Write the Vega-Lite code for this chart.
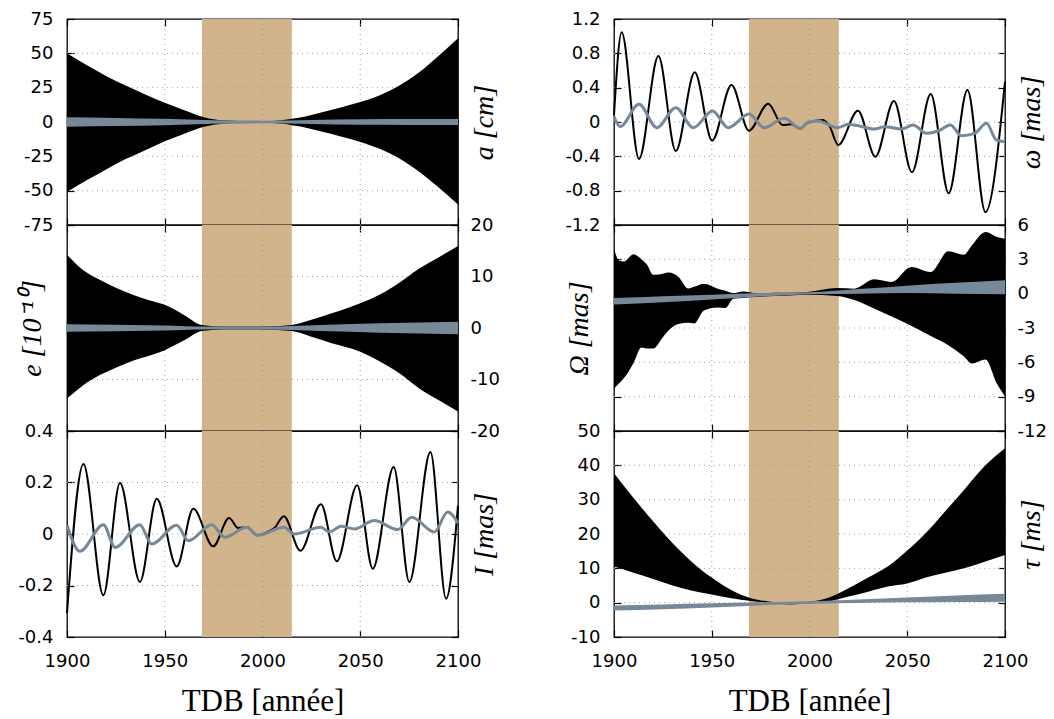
{
  "$schema": "https://vega.github.io/schema/vega-lite/v6.json",
  "padding": {"left": 17, "top": 9, "right": 5, "bottom": 0},
  "background": "white",
  "columns": 2,
  "spacing": {"row": 0, "column": 156},
  "bounds": "flush",
  "datasets": {
    "band": [{"s": 1969, "e": 2015}],
    "xg": [{"g": 1950}, {"g": 2000}, {"g": 2050}],
    "yg_a": [{"g": -50}, {"g": -25}, {"g": 0}, {"g": 25}, {"g": 50}],
    "yg_e": [{"g": -10}, {"g": 0}, {"g": 10}],
    "yg_I": [{"g": -0.2}, {"g": 0}, {"g": 0.2}],
    "yg_w": [{"g": -0.8}, {"g": -0.4}, {"g": 0}, {"g": 0.4}, {"g": 0.8}],
    "yg_O": [{"g": -9}, {"g": -6}, {"g": -3}, {"g": 0}, {"g": 3}],
    "yg_t": [{"g": 0}, {"g": 10}, {"g": 20}, {"g": 30}, {"g": 40}],
    "a_b": [
      {"t": 1900, "lo": -51, "hi": 50}, {"t": 1910, "lo": -42.5, "hi": 41.5}, {"t": 1920, "lo": -34.5, "hi": 33.5},
      {"t": 1930, "lo": -27, "hi": 26.5}, {"t": 1940, "lo": -20.5, "hi": 20}, {"t": 1950, "lo": -14, "hi": 14},
      {"t": 1960, "lo": -8.5, "hi": 8.5}, {"t": 1970, "lo": -3.5, "hi": 3.5}, {"t": 1975, "lo": -2, "hi": 2},
      {"t": 1980, "lo": -1.2, "hi": 1.2}, {"t": 1990, "lo": -0.6, "hi": 0.6}, {"t": 2000, "lo": -0.6, "hi": 0.6},
      {"t": 2010, "lo": -1.3, "hi": 1.3}, {"t": 2015, "lo": -2.3, "hi": 2.3}, {"t": 2020, "lo": -3.5, "hi": 3.5},
      {"t": 2030, "lo": -7, "hi": 7}, {"t": 2040, "lo": -10.5, "hi": 10.5}, {"t": 2050, "lo": -14.5, "hi": 14.5},
      {"t": 2060, "lo": -19.5, "hi": 19.5}, {"t": 2070, "lo": -26.5, "hi": 26.5}, {"t": 2080, "lo": -36, "hi": 36},
      {"t": 2090, "lo": -47.5, "hi": 48}, {"t": 2100, "lo": -60, "hi": 61}
    ],
    "a_g": [
      {"t": 1900, "lo": -3.5, "hi": 3.5}, {"t": 1925, "lo": -3, "hi": 3}, {"t": 1950, "lo": -2.3, "hi": 2.3},
      {"t": 1975, "lo": -1.3, "hi": 1.3}, {"t": 2000, "lo": -1, "hi": 1}, {"t": 2025, "lo": -1.5, "hi": 1.5},
      {"t": 2050, "lo": -2, "hi": 2}, {"t": 2075, "lo": -2.1, "hi": 2.1}, {"t": 2100, "lo": -2.2, "hi": 2.2}
    ],
    "e_b": [
      {"t": 1900, "lo": -13.7, "hi": 14.2}, {"t": 1908, "lo": -11.2, "hi": 11.3}, {"t": 1917, "lo": -9.1, "hi": 9.3},
      {"t": 1925, "lo": -7.7, "hi": 7.8}, {"t": 1934, "lo": -6.3, "hi": 6.4}, {"t": 1942, "lo": -5.4, "hi": 5.4},
      {"t": 1950, "lo": -4.3, "hi": 4.5}, {"t": 1960, "lo": -2.4, "hi": 2.5}, {"t": 1969, "lo": -0.6, "hi": 0.6},
      {"t": 1980, "lo": -0.3, "hi": 0.3}, {"t": 2000, "lo": -0.3, "hi": 0.3}, {"t": 2015, "lo": -0.6, "hi": 0.6},
      {"t": 2025, "lo": -1.7, "hi": 1.6}, {"t": 2035, "lo": -2.9, "hi": 2.8}, {"t": 2050, "lo": -4.6, "hi": 4.8},
      {"t": 2060, "lo": -6.5, "hi": 6.5}, {"t": 2070, "lo": -8.8, "hi": 8.8}, {"t": 2080, "lo": -11.7, "hi": 11.5},
      {"t": 2090, "lo": -14, "hi": 13.7}, {"t": 2100, "lo": -16.2, "hi": 15.9}
    ],
    "e_g": [
      {"t": 1900, "lo": -0.75, "hi": 0.75}, {"t": 1950, "lo": -0.5, "hi": 0.5}, {"t": 1970, "lo": -0.3, "hi": 0.3},
      {"t": 2000, "lo": -0.3, "hi": 0.3}, {"t": 2030, "lo": -0.6, "hi": 0.6}, {"t": 2060, "lo": -0.9, "hi": 0.9},
      {"t": 2100, "lo": -1.2, "hi": 1.2}
    ],
    "I_b": [
      {"t": 1900, "v": -0.307}, {"t": 1908.4, "v": 0.272}, {"t": 1918.6, "v": -0.238}, {"t": 1927.1, "v": 0.198},
      {"t": 1937.3, "v": -0.186}, {"t": 1945.9, "v": 0.137}, {"t": 1956.1, "v": -0.126}, {"t": 1964.6, "v": 0.098},
      {"t": 1974.8, "v": -0.048}, {"t": 1982.9, "v": 0.062}, {"t": 1987.6, "v": 0.023}, {"t": 1991.9, "v": 0.027},
      {"t": 1997.3, "v": -0.005}, {"t": 2002.7, "v": 0.008}, {"t": 2006.1, "v": 0.023}, {"t": 2010.9, "v": 0.069},
      {"t": 2019.4, "v": -0.065}, {"t": 2029.9, "v": 0.116}, {"t": 2038.0, "v": -0.106}, {"t": 2048.4, "v": 0.189},
      {"t": 2056.4, "v": -0.135}, {"t": 2067.1, "v": 0.26}, {"t": 2075.1, "v": -0.186}, {"t": 2085.9, "v": 0.318},
      {"t": 2093.9, "v": -0.251}, {"t": 2100, "v": 0.11}
    ],
    "I_g": [
      {"t": 1900, "v": 0.034}, {"t": 1906.6, "v": -0.067}, {"t": 1918.6, "v": 0.036}, {"t": 1924.6, "v": -0.052},
      {"t": 1937.3, "v": 0.036}, {"t": 1943.3, "v": -0.039}, {"t": 1956.1, "v": 0.034}, {"t": 1962.1, "v": -0.026},
      {"t": 1974.0, "v": 0.036}, {"t": 1980.8, "v": -0.013}, {"t": 1991.9, "v": 0.026}, {"t": 1997.6, "v": -0.005},
      {"t": 2010.9, "v": 0.026}, {"t": 2016.3, "v": 0.0}, {"t": 2029.9, "v": 0.026}, {"t": 2034.2, "v": 0.008},
      {"t": 2040.2, "v": 0.03}, {"t": 2047.0, "v": 0.019}, {"t": 2057.2, "v": 0.052}, {"t": 2069.2, "v": 0.017},
      {"t": 2076.3, "v": 0.065}, {"t": 2087.9, "v": 0.008}, {"t": 2094.7, "v": 0.085}, {"t": 2100, "v": 0.043}
    ],
    "w_b": [
      {"t": 1900, "v": 0.08}, {"t": 1903.9, "v": 1.045}, {"t": 1912.8, "v": -0.431}, {"t": 1922.7, "v": 0.769},
      {"t": 1931.6, "v": -0.338}, {"t": 1941.3, "v": 0.579}, {"t": 1950.2, "v": -0.217}, {"t": 1960.1, "v": 0.431},
      {"t": 1969.0, "v": -0.101}, {"t": 1978.9, "v": 0.214}, {"t": 1986.2, "v": -0.035}, {"t": 1990.5, "v": -0.027},
      {"t": 1995.3, "v": -0.078}, {"t": 1999.0, "v": -0.01}, {"t": 2006.9, "v": 0.023}, {"t": 2010.3, "v": -0.05},
      {"t": 2014.7, "v": -0.268}, {"t": 2024.8, "v": 0.132}, {"t": 2033.7, "v": -0.404}, {"t": 2043.2, "v": 0.245},
      {"t": 2052.4, "v": -0.586}, {"t": 2062.0, "v": 0.326}, {"t": 2071.2, "v": -0.831}, {"t": 2080.8, "v": 0.373},
      {"t": 2090.0, "v": -1.052}, {"t": 2100, "v": 0.47}
    ],
    "w_g": [
      {"t": 1900, "v": 0.062}, {"t": 1903.1, "v": -0.054}, {"t": 1912.8, "v": 0.206}, {"t": 1921.9, "v": -0.066},
      {"t": 1931.6, "v": 0.167}, {"t": 1940.6, "v": -0.066}, {"t": 1950.4, "v": 0.128}, {"t": 1958.4, "v": -0.066},
      {"t": 1969.1, "v": 0.093}, {"t": 1976.8, "v": -0.066}, {"t": 1987.1, "v": 0.043}, {"t": 1995.3, "v": -0.074},
      {"t": 1999.5, "v": 0.0}, {"t": 2004.3, "v": 0.012}, {"t": 2014.5, "v": -0.066}, {"t": 2019.7, "v": -0.027},
      {"t": 2024.8, "v": -0.043}, {"t": 2033.3, "v": -0.082}, {"t": 2038.4, "v": -0.054}, {"t": 2047.0, "v": -0.082},
      {"t": 2053.0, "v": -0.035}, {"t": 2059.8, "v": -0.132}, {"t": 2065.8, "v": -0.105}, {"t": 2072.1, "v": -0.035},
      {"t": 2077.7, "v": -0.159}, {"t": 2084.5, "v": -0.132}, {"t": 2090.5, "v": -0.016}, {"t": 2095.6, "v": -0.21},
      {"t": 2100, "v": -0.229}
    ],
    "O_b": [
      {"t": 1900, "lo": -8.3, "hi": 3.93}, {"t": 1902.5, "lo": -7.85, "hi": 2.9}, {"t": 1905, "lo": -7.4, "hi": 2.8},
      {"t": 1910, "lo": -6.05, "hi": 3.44}, {"t": 1914, "lo": -4.7, "hi": 3.0}, {"t": 1917, "lo": -4.8, "hi": 2.5}, {"t": 1920, "lo": -4.8, "hi": 1.65},
      {"t": 1925, "lo": -3.8, "hi": 1.75}, {"t": 1928, "lo": -3.2, "hi": 1.84}, {"t": 1933, "lo": -2.65, "hi": 1.46},
      {"t": 1938, "lo": -2.55, "hi": 0.45}, {"t": 1941, "lo": -2.6, "hi": 0.6}, {"t": 1946, "lo": -1.46, "hi": 0.87}, {"t": 1953, "lo": -1.2, "hi": 0.44},
      {"t": 1957, "lo": -1.25, "hi": 0.25}, {"t": 1961, "lo": -0.45, "hi": 0.05}, {"t": 1966, "lo": -0.37, "hi": 0.2}, {"t": 1973, "lo": -0.3, "hi": 0.05},
      {"t": 1982, "lo": -0.2, "hi": 0.09}, {"t": 1990, "lo": -0.15, "hi": 0.09}, {"t": 1999, "lo": -0.09, "hi": 0.15},
      {"t": 2014, "lo": -0.2, "hi": 0.5}, {"t": 2023, "lo": -0.55, "hi": 0.44}, {"t": 2033, "lo": -1.3, "hi": 1.25},
      {"t": 2042, "lo": -2.0, "hi": 1.02}, {"t": 2052, "lo": -2.8, "hi": 2.33}, {"t": 2062, "lo": -3.7, "hi": 1.89},
      {"t": 2071, "lo": -4.5, "hi": 3.7}, {"t": 2079, "lo": -5.5, "hi": 3.4}, {"t": 2083, "lo": -6.1, "hi": 4.2}, {"t": 2090, "lo": -5.75, "hi": 5.39},
      {"t": 2096, "lo": -7.9, "hi": 4.95}, {"t": 2100, "lo": -9.0, "hi": 4.8}
    ],
    "O_g": [
      {"t": 1900, "lo": -0.95, "hi": -0.38}, {"t": 1925, "lo": -0.75, "hi": -0.22}, {"t": 1950, "lo": -0.5, "hi": -0.09},
      {"t": 1975, "lo": -0.25, "hi": 0.05}, {"t": 2000, "lo": -0.05, "hi": 0.12}, {"t": 2025, "lo": 0.0, "hi": 0.4},
      {"t": 2050, "lo": 0.05, "hi": 0.7}, {"t": 2075, "lo": 0.0, "hi": 0.95}, {"t": 2100, "lo": -0.05, "hi": 1.17}
    ],
    "t_b": [
      {"t": 1900, "lo": 10.5, "hi": 37.7}, {"t": 1910, "lo": 8.7, "hi": 30.5}, {"t": 1920, "lo": 6.9, "hi": 23.7},
      {"t": 1930, "lo": 5.0, "hi": 17.3}, {"t": 1940, "lo": 3.5, "hi": 11.8}, {"t": 1950, "lo": 2.4, "hi": 7.3},
      {"t": 1960, "lo": 1.3, "hi": 3.7}, {"t": 1970, "lo": 0.5, "hi": 1.3}, {"t": 1980, "lo": 0.0, "hi": 0.3},
      {"t": 1990, "lo": -0.5, "hi": 0.0}, {"t": 2000, "lo": -0.2, "hi": 0.3}, {"t": 2010, "lo": 0.4, "hi": 1.5},
      {"t": 2020, "lo": 1.8, "hi": 4.2}, {"t": 2030, "lo": 3.2, "hi": 7.3}, {"t": 2040, "lo": 4.7, "hi": 10.5},
      {"t": 2050, "lo": 5.6, "hi": 15.2}, {"t": 2060, "lo": 7.4, "hi": 20.6}, {"t": 2070, "lo": 8.8, "hi": 27},
      {"t": 2080, "lo": 10.2, "hi": 33.5}, {"t": 2090, "lo": 12, "hi": 40}, {"t": 2100, "lo": 13.9, "hi": 45}
    ],
    "t_g": [
      {"t": 1900, "lo": -2.3, "hi": -0.8}, {"t": 1925, "lo": -1.9, "hi": -0.5}, {"t": 1950, "lo": -1.4, "hi": -0.2},
      {"t": 1975, "lo": -0.8, "hi": 0.1}, {"t": 2000, "lo": -0.3, "hi": 0.4}, {"t": 2025, "lo": -0.1, "hi": 0.9},
      {"t": 2050, "lo": 0.1, "hi": 1.5}, {"t": 2075, "lo": 0.2, "hi": 2.1}, {"t": 2100, "lo": 0.3, "hi": 2.6}
    ]
  },
  "concat": [
    {
      "width": 391, "height": 206,
      "resolve": {"axis": {"x": "independent", "y": "independent"}},
      "layer": [
        {"data": {"name": "band"}, "mark": {"type": "rect", "color": "#D2B48C"},
         "encoding": {"x": {"field": "s", "type": "quantitative", "scale": {"domain": [1900, 2100]}, "axis": null}, "x2": {"field": "e"}}},
        {"data": {"name": "xg"}, "mark": {"type": "rule", "color": "#a0a0a0", "strokeDash": [1, 4], "strokeWidth": 1},
         "encoding": {"x": {"field": "g", "type": "quantitative", "scale": {"domain": [1900, 2100]}, "axis": null}}},
        {"data": {"name": "yg_a"}, "mark": {"type": "rule", "color": "#a0a0a0", "strokeDash": [1, 4], "strokeWidth": 1},
         "encoding": {"y": {"field": "g", "type": "quantitative", "scale": {"domain": [-75, 75], "nice": false, "zero": false}, "axis": null}}},
        {"data": {"name": "a_b"}, "mark": {"type": "area", "color": "#000", "interpolate": "monotone"},
         "encoding": {"x": {"field": "t", "type": "quantitative", "scale": {"domain": [1900, 2100]}, "axis": {"orient": "bottom", "values": [1900, 1950, 2000, 2050, 2100], "labels": false, "tickSize": -7, "title": null}},
                      "y": {"field": "hi", "type": "quantitative", "scale": {"domain": [-75, 75], "nice": false, "zero": false}, "axis": {"orient": "left", "values": [-75, -50, -25, 0, 25, 50, 75], "tickSize": -7, "labelPadding": 21, "labelExpr": "toString(datum.value)", "title": null}},
                      "y2": {"field": "lo"}}},
        {"data": {"name": "a_g"}, "mark": {"type": "area", "color": "#778899", "interpolate": "monotone"},
         "encoding": {"x": {"field": "t", "type": "quantitative", "axis": {"orient": "top", "values": [1900, 1950, 2000, 2050, 2100], "labels": false, "tickSize": -7, "title": null}},
                      "y": {"field": "hi", "type": "quantitative", "axis": {"orient": "right", "values": [-75, -50, -25, 0, 25, 50, 75], "tickSize": -7, "labels": false, "title": "a [cm]", "titleAngle": 270, "titleBaseline": "top", "titleFontStyle": "italic", "titlePadding": 12}},
                      "y2": {"field": "lo"}}}
      ]
    },
    {
      "width": 391, "height": 206,
      "resolve": {"axis": {"x": "independent", "y": "independent"}},
      "layer": [
        {"data": {"name": "band"}, "mark": {"type": "rect", "color": "#D2B48C"},
         "encoding": {"x": {"field": "s", "type": "quantitative", "scale": {"domain": [1900, 2100]}, "axis": null}, "x2": {"field": "e"}}},
        {"data": {"name": "xg"}, "mark": {"type": "rule", "color": "#a0a0a0", "strokeDash": [1, 4], "strokeWidth": 1},
         "encoding": {"x": {"field": "g", "type": "quantitative", "scale": {"domain": [1900, 2100]}, "axis": null}}},
        {"data": {"name": "yg_w"}, "mark": {"type": "rule", "color": "#a0a0a0", "strokeDash": [1, 4], "strokeWidth": 1},
         "encoding": {"y": {"field": "g", "type": "quantitative", "scale": {"domain": [-1.2, 1.2], "nice": false, "zero": false}, "axis": null}}},
        {"data": {"name": "w_b"}, "mark": {"type": "line", "color": "#000", "strokeWidth": 2, "interpolate": "monotone"},
         "encoding": {"x": {"field": "t", "type": "quantitative", "scale": {"domain": [1900, 2100]}, "axis": {"orient": "bottom", "values": [1900, 1950, 2000, 2050, 2100], "labels": false, "tickSize": -7, "title": null}},
                      "y": {"field": "v", "type": "quantitative", "scale": {"domain": [-1.2, 1.2], "nice": false, "zero": false}, "axis": {"orient": "left", "values": [-1.2, -0.8, -0.4, 0, 0.4, 0.8, 1.2], "tickSize": -7, "labelPadding": 21, "labelExpr": "toString(datum.value)", "title": null}}}},
        {"data": {"name": "w_g"}, "mark": {"type": "line", "color": "#778899", "strokeWidth": 3, "interpolate": "monotone"},
         "encoding": {"x": {"field": "t", "type": "quantitative", "axis": {"orient": "top", "values": [1900, 1950, 2000, 2050, 2100], "labels": false, "tickSize": -7, "title": null}},
                      "y": {"field": "v", "type": "quantitative", "axis": {"orient": "right", "values": [-1.2, -0.8, -0.4, 0, 0.4, 0.8, 1.2], "tickSize": -7, "labels": false, "title": "ω [mas]", "titleAngle": 270, "titleBaseline": "top", "titleFontStyle": "italic", "titlePadding": 12}}}}
      ]
    },
    {
      "width": 391, "height": 206,
      "resolve": {"axis": {"x": "independent", "y": "independent"}},
      "layer": [
        {"data": {"name": "band"}, "mark": {"type": "rect", "color": "#D2B48C"},
         "encoding": {"x": {"field": "s", "type": "quantitative", "scale": {"domain": [1900, 2100]}, "axis": null}, "x2": {"field": "e"}}},
        {"data": {"name": "xg"}, "mark": {"type": "rule", "color": "#a0a0a0", "strokeDash": [1, 4], "strokeWidth": 1},
         "encoding": {"x": {"field": "g", "type": "quantitative", "scale": {"domain": [1900, 2100]}, "axis": null}}},
        {"data": {"name": "yg_e"}, "mark": {"type": "rule", "color": "#a0a0a0", "strokeDash": [1, 4], "strokeWidth": 1},
         "encoding": {"y": {"field": "g", "type": "quantitative", "scale": {"domain": [-20, 20], "nice": false, "zero": false}, "axis": null}}},
        {"data": {"name": "e_b"}, "mark": {"type": "area", "color": "#000", "interpolate": "monotone"},
         "encoding": {"x": {"field": "t", "type": "quantitative", "scale": {"domain": [1900, 2100]}, "axis": {"orient": "bottom", "values": [1900, 1950, 2000, 2050, 2100], "labels": false, "tickSize": -7, "title": null}},
                      "y": {"field": "hi", "type": "quantitative", "scale": {"domain": [-20, 20], "nice": false, "zero": false}, "axis": {"orient": "right", "values": [-20, -10, 0, 10, 20], "tickSize": -7, "labelPadding": 19, "labelExpr": "toString(datum.value)", "title": null}},
                      "y2": {"field": "lo"}}},
        {"data": {"name": "e_g"}, "mark": {"type": "area", "color": "#778899", "interpolate": "monotone"},
         "encoding": {"x": {"field": "t", "type": "quantitative", "axis": {"orient": "top", "values": [1900, 1950, 2000, 2050, 2100], "labels": false, "tickSize": -7, "title": null}},
                      "y": {"field": "hi", "type": "quantitative", "axis": {"orient": "left", "values": [-20, -10, 0, 10, 20], "tickSize": -7, "labels": false, "title": "e [10⁻¹⁰]", "titleFontStyle": "italic", "titlePadding": 20}},
                      "y2": {"field": "lo"}}}
      ]
    },
    {
      "width": 391, "height": 206,
      "resolve": {"axis": {"x": "independent", "y": "independent"}},
      "layer": [
        {"data": {"name": "band"}, "mark": {"type": "rect", "color": "#D2B48C"},
         "encoding": {"x": {"field": "s", "type": "quantitative", "scale": {"domain": [1900, 2100]}, "axis": null}, "x2": {"field": "e"}}},
        {"data": {"name": "xg"}, "mark": {"type": "rule", "color": "#a0a0a0", "strokeDash": [1, 4], "strokeWidth": 1},
         "encoding": {"x": {"field": "g", "type": "quantitative", "scale": {"domain": [1900, 2100]}, "axis": null}}},
        {"data": {"name": "yg_O"}, "mark": {"type": "rule", "color": "#a0a0a0", "strokeDash": [1, 4], "strokeWidth": 1},
         "encoding": {"y": {"field": "g", "type": "quantitative", "scale": {"domain": [-12, 6], "nice": false, "zero": false}, "axis": null}}},
        {"data": {"name": "O_b"}, "mark": {"type": "area", "color": "#000", "interpolate": "monotone"},
         "encoding": {"x": {"field": "t", "type": "quantitative", "scale": {"domain": [1900, 2100]}, "axis": {"orient": "bottom", "values": [1900, 1950, 2000, 2050, 2100], "labels": false, "tickSize": -7, "title": null}},
                      "y": {"field": "hi", "type": "quantitative", "scale": {"domain": [-12, 6], "nice": false, "zero": false}, "axis": {"orient": "right", "values": [-12, -9, -6, -3, 0, 3, 6], "tickSize": -7, "labelPadding": 19, "labelExpr": "toString(datum.value)", "title": null}},
                      "y2": {"field": "lo"}}},
        {"data": {"name": "O_g"}, "mark": {"type": "area", "color": "#778899", "interpolate": "monotone"},
         "encoding": {"x": {"field": "t", "type": "quantitative", "axis": {"orient": "top", "values": [1900, 1950, 2000, 2050, 2100], "labels": false, "tickSize": -7, "title": null}},
                      "y": {"field": "hi", "type": "quantitative", "axis": {"orient": "left", "values": [-12, -9, -6, -3, 0, 3, 6], "tickSize": -7, "labels": false, "title": "Ω [mas]", "titleFontStyle": "italic", "titlePadding": 20}},
                      "y2": {"field": "lo"}}}
      ]
    },
    {
      "width": 391, "height": 206,
      "resolve": {"axis": {"x": "independent", "y": "independent"}},
      "layer": [
        {"data": {"name": "band"}, "mark": {"type": "rect", "color": "#D2B48C"},
         "encoding": {"x": {"field": "s", "type": "quantitative", "scale": {"domain": [1900, 2100]}, "axis": null}, "x2": {"field": "e"}}},
        {"data": {"name": "xg"}, "mark": {"type": "rule", "color": "#a0a0a0", "strokeDash": [1, 4], "strokeWidth": 1},
         "encoding": {"x": {"field": "g", "type": "quantitative", "scale": {"domain": [1900, 2100]}, "axis": null}}},
        {"data": {"name": "yg_I"}, "mark": {"type": "rule", "color": "#a0a0a0", "strokeDash": [1, 4], "strokeWidth": 1},
         "encoding": {"y": {"field": "g", "type": "quantitative", "scale": {"domain": [-0.4, 0.4], "nice": false, "zero": false}, "axis": null}}},
        {"data": {"name": "I_b"}, "mark": {"type": "line", "color": "#000", "strokeWidth": 2, "interpolate": "monotone"},
         "encoding": {"x": {"field": "t", "type": "quantitative", "scale": {"domain": [1900, 2100]}, "axis": {"orient": "bottom", "values": [1900, 1950, 2000, 2050, 2100], "tickSize": -7, "labelPadding": 22, "labelFlush": false, "labelExpr": "toString(datum.value)", "title": "TDB [année]", "titleFontSize": 31, "titlePadding": 16}},
                      "y": {"field": "v", "type": "quantitative", "scale": {"domain": [-0.4, 0.4], "nice": false, "zero": false}, "axis": {"orient": "left", "values": [-0.4, -0.2, 0, 0.2, 0.4], "tickSize": -7, "labelPadding": 21, "labelExpr": "toString(datum.value)", "title": null}}}},
        {"data": {"name": "I_g"}, "mark": {"type": "line", "color": "#778899", "strokeWidth": 3, "interpolate": "monotone"},
         "encoding": {"x": {"field": "t", "type": "quantitative", "axis": {"orient": "top", "values": [1900, 1950, 2000, 2050, 2100], "labels": false, "tickSize": -7, "title": null}},
                      "y": {"field": "v", "type": "quantitative", "axis": {"orient": "right", "values": [-0.4, -0.2, 0, 0.2, 0.4], "tickSize": -7, "labels": false, "title": "I [mas]", "titleAngle": 270, "titleBaseline": "top", "titleFontStyle": "italic", "titlePadding": 12}}}}
      ]
    },
    {
      "width": 391, "height": 206,
      "resolve": {"axis": {"x": "independent", "y": "independent"}},
      "layer": [
        {"data": {"name": "band"}, "mark": {"type": "rect", "color": "#D2B48C"},
         "encoding": {"x": {"field": "s", "type": "quantitative", "scale": {"domain": [1900, 2100]}, "axis": null}, "x2": {"field": "e"}}},
        {"data": {"name": "xg"}, "mark": {"type": "rule", "color": "#a0a0a0", "strokeDash": [1, 4], "strokeWidth": 1},
         "encoding": {"x": {"field": "g", "type": "quantitative", "scale": {"domain": [1900, 2100]}, "axis": null}}},
        {"data": {"name": "yg_t"}, "mark": {"type": "rule", "color": "#a0a0a0", "strokeDash": [1, 4], "strokeWidth": 1},
         "encoding": {"y": {"field": "g", "type": "quantitative", "scale": {"domain": [-10, 50], "nice": false, "zero": false}, "axis": null}}},
        {"data": {"name": "t_b"}, "mark": {"type": "area", "color": "#000", "interpolate": "monotone"},
         "encoding": {"x": {"field": "t", "type": "quantitative", "scale": {"domain": [1900, 2100]}, "axis": {"orient": "bottom", "values": [1900, 1950, 2000, 2050, 2100], "tickSize": -7, "labelPadding": 22, "labelFlush": false, "labelExpr": "toString(datum.value)", "title": "TDB [année]", "titleFontSize": 31, "titlePadding": 16}},
                      "y": {"field": "hi", "type": "quantitative", "scale": {"domain": [-10, 50], "nice": false, "zero": false}, "axis": {"orient": "left", "values": [-10, 0, 10, 20, 30, 40, 50], "tickSize": -7, "labelPadding": 21, "labelExpr": "toString(datum.value)", "title": null}},
                      "y2": {"field": "lo"}}},
        {"data": {"name": "t_g"}, "mark": {"type": "area", "color": "#778899", "interpolate": "monotone"},
         "encoding": {"x": {"field": "t", "type": "quantitative", "axis": {"orient": "top", "values": [1900, 1950, 2000, 2050, 2100], "labels": false, "tickSize": -7, "title": null}},
                      "y": {"field": "hi", "type": "quantitative", "axis": {"orient": "right", "values": [-10, 0, 10, 20, 30, 40, 50], "tickSize": -7, "labels": false, "title": "τ [ms]", "titleAngle": 270, "titleBaseline": "top", "titleFontStyle": "italic", "titlePadding": 12}},
                      "y2": {"field": "lo"}}}
      ]
    }
  ],
  "config": {
    "view": {"stroke": "#000", "strokeWidth": 1.3},
    "axis": {"grid": true, "gridOpacity": 0, "domain": false, "labelFont": "DejaVu Sans", "labelFontSize": 18, "labelColor": "#000", "tickColor": "#000", "tickWidth": 1.2, "titleFont": "Liberation Serif", "titleFontSize": 28, "titleFontWeight": "normal", "titleColor": "#000", "zindex": 1}
  }
}
